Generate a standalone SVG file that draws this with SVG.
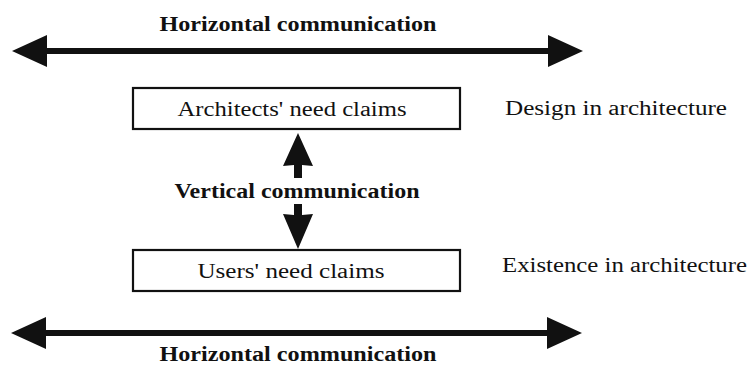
<svg xmlns="http://www.w3.org/2000/svg" width="751" height="367" viewBox="0 0 751 367">
<style>
text{font-family:"Liberation Serif","DejaVu Serif",serif;fill:#111;}
.b{font-weight:bold;font-size:20px;}
.r{font-size:20.5px;}
.box{fill:#fff;stroke:#111;stroke-width:2.2;}
.ar{fill:#111;stroke:none;}
</style>
<rect width="751" height="367" fill="#fff"/>
<g id="connectors">
<g id="top-arrow">
<rect class="ar" x="40" y="48" width="510" height="6"/>
<polygon class="ar" points="12,51 47,35 47,67"/>
<polygon class="ar" points="583,51 548,35 548,67"/>
</g>
<g id="bottom-arrow">
<rect class="ar" x="40" y="330" width="510" height="6"/>
<polygon class="ar" points="11,333 46,317 46,349"/>
<polygon class="ar" points="582,333 547,317 547,349"/>
</g>
<g id="vertical-arrow">
<polygon class="ar" points="298,133 313,166 302,165 302,178 294,178 294,165 283,166"/>
<polygon class="ar" points="298,249 313,214 302,215 302,204 294,204 294,215 283,214"/>
</g>
</g>
<text class="b" x="298" y="31" text-anchor="middle" textLength="277" lengthAdjust="spacingAndGlyphs">Horizontal communication</text>
<text class="b" x="298" y="361" text-anchor="middle" textLength="277" lengthAdjust="spacingAndGlyphs">Horizontal communication</text>
<text class="b" x="297" y="198" text-anchor="middle" textLength="245" lengthAdjust="spacingAndGlyphs">Vertical communication</text>
<g id="architects">
<rect class="box" x="133" y="88" width="327" height="41"/>
<text class="r" x="292" y="116" text-anchor="middle" textLength="229" lengthAdjust="spacingAndGlyphs">Architects' need claims</text>
</g>
<g id="users">
<rect class="box" x="133" y="250" width="327" height="41"/>
<text class="r" x="291" y="278" text-anchor="middle" textLength="187" lengthAdjust="spacingAndGlyphs">Users' need claims</text>
</g>
<g id="design-label">
<text class="r" x="505" y="115" textLength="222" lengthAdjust="spacingAndGlyphs">Design in architecture</text>
</g>
<g id="existence-label">
<text class="r" x="502" y="272" textLength="245" lengthAdjust="spacingAndGlyphs">Existence in architecture</text>
</g>
</svg>
